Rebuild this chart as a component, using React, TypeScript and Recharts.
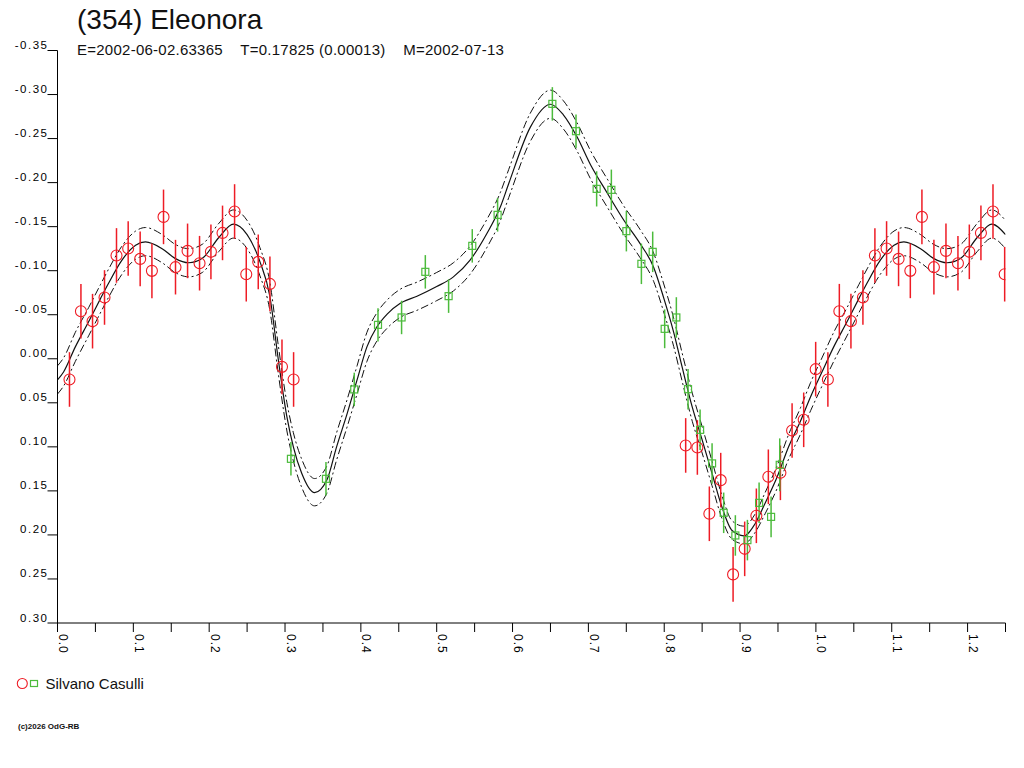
import React from 'react';
import { ComposedChart, Line, Scatter, XAxis, YAxis, ErrorBar } from 'recharts';

// ---- data ----
const redPhase = [0.0158, 0.0309, 0.0462, 0.062, 0.0778, 0.0932, 0.109, 0.1245, 0.1398, 0.1556, 0.1715, 0.1873, 0.2023, 0.2176, 0.2335, 0.2489, 0.2647, 0.2801, 0.296, 0.3113,
  0.8283, 0.8437, 0.8595, 0.8745, 0.8908, 0.9061, 0.9215, 0.9373, 0.9532, 0.9686, 0.9839, 0.9997,
  1.0158, 1.0309, 1.0462, 1.062, 1.0778, 1.0932, 1.109, 1.1245, 1.1398, 1.1556, 1.1715, 1.1873, 1.2023, 1.2176, 1.2335, 1.2489];
const redMag = [0.0235, -0.054, -0.0427, -0.0696, -0.1173, -0.1252, -0.1134, -0.0998, -0.1611, -0.104, -0.1225, -0.1085, -0.1214, -0.1429, -0.1672, -0.096, -0.110, -0.085, 0.0092, 0.0235,
  0.0984, 0.1007, 0.176, 0.1378, 0.2448, 0.2158, 0.1783, 0.134, 0.1295, 0.0814, 0.0693, 0.0118,
  0.0235, -0.054, -0.0427, -0.0696, -0.1173, -0.1252, -0.1134, -0.0998, -0.1611, -0.104, -0.1225, -0.1085, -0.1214, -0.1429, -0.1672, -0.096];
const redErr = [0.031, 0.031, 0.031, 0.031, 0.031, 0.031, 0.031, 0.031, 0.031, 0.031, 0.031, 0.031, 0.031, 0.031, 0.031, 0.031, 0.031, 0.031, 0.031, 0.031,
  0.031, 0.031, 0.031, 0.031, 0.031, 0.031, 0.031, 0.031, 0.031, 0.031, 0.031, 0.031,
  0.031, 0.031, 0.031, 0.031, 0.031, 0.031, 0.031, 0.031, 0.031, 0.031, 0.031, 0.031, 0.031, 0.031, 0.031, 0.031];

const greenPhase = [0.3078, 0.354, 0.3913, 0.4226, 0.4537, 0.485, 0.5157, 0.5469, 0.5803, 0.6525, 0.6837, 0.7109, 0.7303, 0.7501, 0.7699, 0.7848, 0.8006, 0.816, 0.8314, 0.8473, 0.8631, 0.8784, 0.8938, 0.9097, 0.9251, 0.9409, 0.9523];
const greenMag = [0.1136, 0.1363, 0.0348, -0.0385, -0.0469, -0.0987, -0.0711, -0.1282, -0.1634, -0.2894, -0.2584, -0.1929, -0.1918, -0.1449, -0.1078, -0.1214, -0.034, -0.0469, 0.0345, 0.0807, 0.1188, 0.1749, 0.2006, 0.2059, 0.1636, 0.1795, 0.1204];
const greenErr = [0.019, 0.019, 0.019, 0.019, 0.019, 0.019, 0.019, 0.019, 0.019, 0.019, 0.019, 0.020, 0.023, 0.023, 0.023, 0.023, 0.022, 0.023, 0.023, 0.023, 0.023, 0.023, 0.023, 0.023, 0.023, 0.023, 0.030];

const curvePhase = [0.000, 0.008, 0.0235, 0.041, 0.0565, 0.0675, 0.085, 0.103, 0.116, 0.138, 0.155, 0.173, 0.191, 0.213, 0.232, 0.25, 0.267, 0.28, 0.291, 0.3025, 0.311, 0.322, 0.339, 0.355, 0.368, 0.382, 0.395, 0.408, 0.421, 0.435, 0.452, 0.474, 0.500, 0.522, 0.544, 0.566, 0.584, 0.595, 0.6235, 0.650, 0.667, 0.685, 0.703, 0.725, 0.747, 0.768, 0.786, 0.799, 0.8125, 0.8235, 0.837, 0.850, 0.863, 0.876, 0.8895, 0.905, 0.920, 0.933, 0.949, 0.964, 0.980, 0.993, 1.008, 1.0235, 1.041, 1.0565, 1.0675, 1.085, 1.103, 1.116, 1.138, 1.155, 1.173, 1.191, 1.213, 1.232, 1.25];
const curveMag = [0.024, 0.015, -0.0135, -0.042, -0.068, -0.086, -0.112, -0.129, -0.1327, -0.125, -0.114, -0.109, -0.114, -0.138, -0.1528, -0.141, -0.110, -0.071, 0.000, 0.066, 0.100, 0.130, 0.152, 0.138, 0.100, 0.062, 0.024, -0.0135, -0.036, -0.051, -0.063, -0.071, -0.082, -0.093, -0.112, -0.142, -0.1725, -0.199, -0.263, -0.289, -0.277, -0.252, -0.220, -0.188, -0.157, -0.131, -0.104, -0.070, -0.030, 0.009, 0.055, 0.092, 0.130, 0.168, 0.195, 0.201, 0.187, 0.164, 0.134, 0.100, 0.070, 0.043, 0.015, -0.0135, -0.042, -0.068, -0.086, -0.112, -0.129, -0.1327, -0.125, -0.114, -0.109, -0.114, -0.138, -0.1528, -0.141];
const curveUpper = [0.008, -0.001, -0.030, -0.058, -0.084, -0.102, -0.128, -0.145, -0.149, -0.141, -0.130, -0.125, -0.130, -0.154, -0.169, -0.157, -0.126, -0.087, -0.016, 0.050, 0.084, 0.114, 0.136, 0.122, 0.084, 0.046, 0.008, -0.030, -0.052, -0.067, -0.079, -0.087, -0.098, -0.109, -0.128, -0.158, -0.189, -0.215, -0.279, -0.305, -0.293, -0.268, -0.236, -0.204, -0.173, -0.147, -0.120, -0.086, -0.046, -0.007, 0.039, 0.077, 0.116, 0.155, 0.184, 0.190, 0.176, 0.152, 0.121, 0.086, 0.055, 0.027, -0.001, -0.030, -0.058, -0.084, -0.102, -0.128, -0.145, -0.149, -0.141, -0.130, -0.125, -0.130, -0.154, -0.169, -0.157];
const curveLower = [0.040, 0.031, 0.003, -0.026, -0.052, -0.070, -0.096, -0.113, -0.117, -0.109, -0.098, -0.093, -0.098, -0.122, -0.137, -0.125, -0.094, -0.055, 0.016, 0.082, 0.116, 0.146, 0.167, 0.153, 0.115, 0.077, 0.040, 0.003, -0.020, -0.035, -0.047, -0.055, -0.066, -0.077, -0.096, -0.126, -0.157, -0.183, -0.247, -0.273, -0.261, -0.236, -0.204, -0.172, -0.141, -0.115, -0.088, -0.054, -0.014, 0.025, 0.071, 0.107, 0.144, 0.181, 0.205, 0.210, 0.197, 0.176, 0.147, 0.114, 0.085, 0.059, 0.031, 0.003, -0.026, -0.052, -0.070, -0.096, -0.113, -0.117, -0.109, -0.098, -0.093, -0.098, -0.122, -0.137, -0.125];

const yTicks = [-0.35, -0.30, -0.25, -0.20, -0.15, -0.10, -0.05, 0.00, 0.05, 0.10, 0.15, 0.20, 0.25, 0.30];
const xTicks = [0, 0.05, 0.1, 0.15, 0.2, 0.25, 0.3, 0.35, 0.4, 0.45, 0.5, 0.55, 0.6, 0.65, 0.7, 0.75, 0.8, 0.85, 0.9, 0.95, 1.0, 1.05, 1.1, 1.15, 1.2, 1.25];
const xLabelTicks = [0, 0.1, 0.2, 0.3, 0.4, 0.5, 0.6, 0.7, 0.8, 0.9, 1.0, 1.1, 1.2];

const TITLE = '(354) Eleonora';
const SUBTITLE = 'E=2002-06-02.63365    T=0.17825 (0.00013)    M=2002-07-13';
const OBSERVER = 'Silvano Casulli';
const FOOTER = '(c)2026 OdG-RB';

// ---- tables ----
const redData = redPhase.map((p, i) => ({ phase: p, mag: redMag[i], err: redErr[i] }));
const greenData = greenPhase.map((p, i) => ({ phase: p, mag: greenMag[i], err: greenErr[i] }));
const curveData = curvePhase.map((p, i) => ({ phase: p, mag: curveMag[i], upper: curveUpper[i], lower: curveLower[i] }));

const RED = '#ee1c25';
const GREEN = '#4cbb3c';
const FONT = '"Liberation Sans", Arial, Helvetica, sans-serif';

const W = 1024;
const H = 768;
const M = { top: 50.5, right: 18.5, bottom: 0, left: 0 };
const YW = 57.5;
const XH = 145;

const YTick = (props: any) => {
  const { x, y, payload } = props;
  const v = payload.value as number;
  return (
    <g>
      <line x1={x - 10} y1={y} x2={x} y2={y} stroke="#000" strokeWidth={1} />
      <text x={x - 9} y={y - 1.5} textAnchor="end" fontFamily={FONT} fontSize={11.5} letterSpacing={1.5} fill="#000">
        {v.toFixed(2)}
      </text>
    </g>
  );
};

const XTick = (props: any) => {
  const { x, y, payload } = props;
  const v = payload.value as number;
  const labeled = xLabelTicks.some((t) => Math.abs(t - v) < 1e-6);
  const tx = x + 1.5;
  const ty = y + 11;
  return (
    <g>
      <line x1={x} y1={y} x2={x} y2={y + 9} stroke="#000" strokeWidth={1} />
      {labeled && (
        <text x={tx} y={ty} transform={`rotate(90 ${tx} ${ty})`} textAnchor="start" fontFamily={FONT} fontSize={12} letterSpacing={1} fill="#000">
          {v.toFixed(1)}
        </text>
      )}
    </g>
  );
};

const Circle = (props: any) => {
  const { cx, cy } = props;
  if (cx == null || cy == null) return null;
  return <circle cx={cx} cy={cy} r={5.5} fill="none" stroke={RED} strokeWidth={1.1} />;
};

const Square = (props: any) => {
  const { cx, cy } = props;
  if (cx == null || cy == null) return null;
  return <rect x={cx - 3.5} y={cy - 3.5} width={7} height={7} fill="none" stroke={GREEN} strokeWidth={1.2} />;
};

export default function App() {
  return (
    <div style={{ position: 'absolute', left: 0, top: 0, width: W, height: H, background: '#fff' }}>
      <ComposedChart width={W} height={H} data={curveData} margin={M}>
        <XAxis
          type="number"
          dataKey="phase"
          domain={[0, 1.25]}
          ticks={xTicks}
          interval={0}
          allowDataOverflow
          height={XH}
          tickSize={0}
          tickMargin={0}
          tickLine={false}
          axisLine={{ stroke: '#000', strokeWidth: 1 }}
          tick={<XTick />}
        />
        <YAxis
          type="number"
          domain={[-0.35, 0.3]}
          reversed
          ticks={yTicks}
          interval={0}
          allowDataOverflow
          width={YW}
          tickSize={0}
          tickMargin={0}
          tickLine={false}
          axisLine={{ stroke: '#000', strokeWidth: 1 }}
          tick={<YTick />}
        />
        <Line type="monotone" dataKey="upper" stroke="#111" strokeWidth={1} strokeDasharray="8 3 2 3" dot={false} activeDot={false} isAnimationActive={false} />
        <Line type="monotone" dataKey="lower" stroke="#111" strokeWidth={1} strokeDasharray="8 3 2 3" dot={false} activeDot={false} isAnimationActive={false} />
        <Line type="monotone" dataKey="mag" stroke="#111" strokeWidth={1.2} dot={false} activeDot={false} isAnimationActive={false} />
        <Scatter data={redData} dataKey="mag" shape={<Circle />} isAnimationActive={false}>
          <ErrorBar dataKey="err" direction="y" width={0} stroke={RED} strokeWidth={1.5} />
        </Scatter>
        <Scatter data={greenData} dataKey="mag" shape={<Square />} isAnimationActive={false}>
          <ErrorBar dataKey="err" direction="y" width={0} stroke={GREEN} strokeWidth={1.5} />
        </Scatter>
      </ComposedChart>
      <svg width={W} height={H} style={{ position: 'absolute', left: 0, top: 0, pointerEvents: 'none' }}>
        <text x={77} y={28.5} fontFamily={FONT} fontSize={28} fill="#111">{TITLE}</text>
        <text x={77} y={54.5} fontFamily={FONT} fontSize={15} letterSpacing={0.25} fill="#111" style={{ whiteSpace: 'pre' }}>{SUBTITLE}</text>
        <circle cx={22.3} cy={683.5} r={5} fill="none" stroke={RED} strokeWidth={1.1} />
        <rect x={30.5} y={680.5} width={7} height={6} fill="none" stroke={GREEN} strokeWidth={1.2} />
        <text x={45.5} y={688.5} fontFamily={FONT} fontSize={15} fill="#111">{OBSERVER}</text>
        <text x={18} y={728.5} fontFamily={FONT} fontSize={8} fontWeight="bold" fill="#111">{FOOTER}</text>
      </svg>
    </div>
  );
}
